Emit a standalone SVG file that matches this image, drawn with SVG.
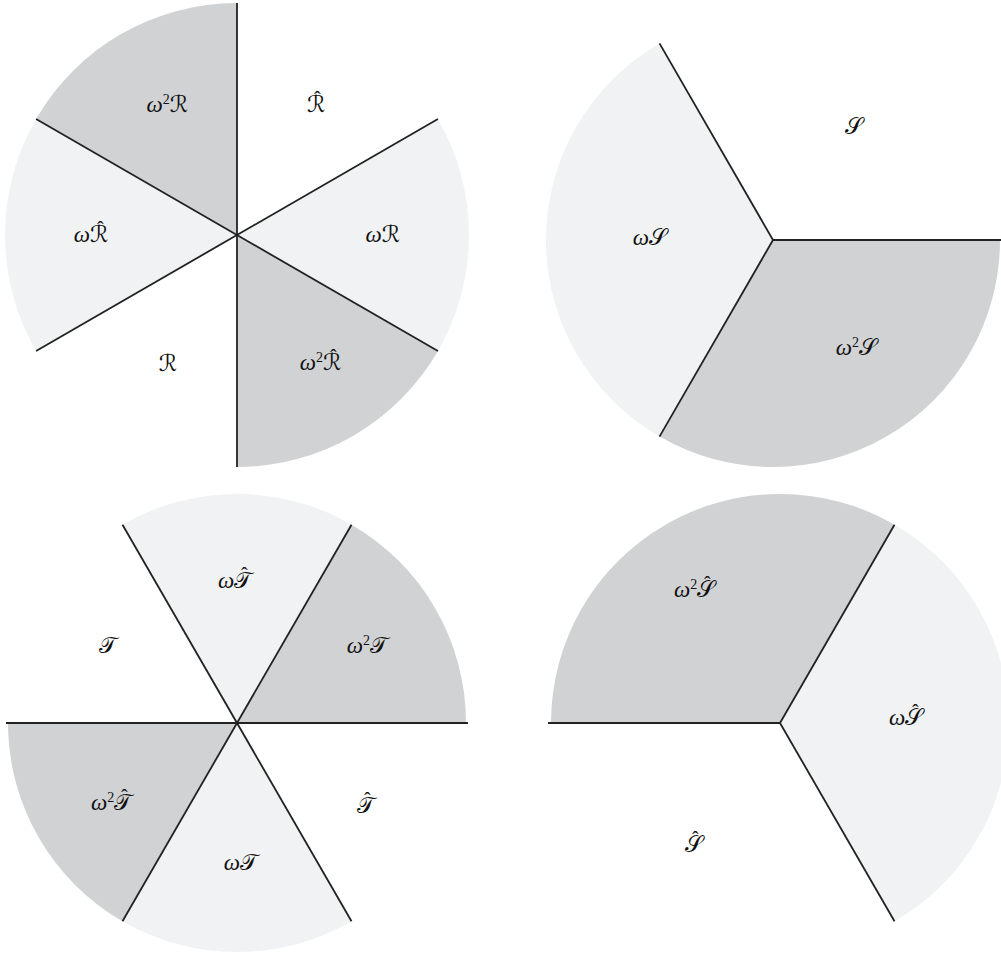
<svg xmlns="http://www.w3.org/2000/svg" width="1001" height="958" viewBox="0 0 1001 958">
<style>
.dark{fill:#d1d2d4;stroke:none}
.light{fill:#f1f2f4;stroke:none}
.ln{stroke:#222;stroke-width:1.8;fill:none}
.lbl{font-family:"DejaVu Serif","DejaVu Sans","Liberation Serif",serif;font-size:23px;fill:#111;text-anchor:end}
.w{font-family:"Liberation Serif",serif;font-style:italic;font-size:23px}
.sup{font-family:"Liberation Serif",serif;font-size:14px}
.hat{font-family:"Liberation Serif",serif;font-size:20px}
</style>
<rect width="1001" height="958" fill="#fff"/>
<g id="diagram-R">
<path class="dark" d="M237 235 L237 3 A232 232 0 0 0 36.08 119 Z"/>
<path class="light" d="M237 235 L36.08 119 A232 232 0 0 0 36.08 351 Z"/>
<path class="dark" d="M237 235 L237 467 A232 232 0 0 0 437.92 351 Z"/>
<path class="light" d="M237 235 L437.92 351 A232 232 0 0 0 437.92 119 Z"/>
<text class="lbl" x="188" y="112"><tspan class="w">ω</tspan><tspan class="sup" dy="-8">2</tspan><tspan dy="8">ℛ</tspan></text>
<text class="lbl" x="325.3" y="112">ℛ<tspan class="hat" dx="-11.3" dy="-6">ˆ</tspan></text>
<text class="lbl" x="108.3" y="242"><tspan class="w">ω</tspan>ℛ<tspan class="hat" dx="-11.3" dy="-6">ˆ</tspan></text>
<text class="lbl" x="400" y="242"><tspan class="w">ω</tspan>ℛ</text>
<text class="lbl" x="177" y="371">ℛ</text>
<text class="lbl" x="341.3" y="370"><tspan class="w">ω</tspan><tspan class="sup" dy="-8">2</tspan><tspan dy="8">ℛ</tspan><tspan class="hat" dx="-11.3" dy="-6">ˆ</tspan></text>
</g>
<g id="diagram-S">
<path class="light" d="M773 240 L659.5 43.41 A227 227 0 0 0 659.5 436.59 Z"/>
<path class="dark" d="M773 240 L659.5 436.59 A227 227 0 0 0 1000 240 Z"/>
<text class="lbl" x="863" y="134">𝒮</text>
<text class="lbl" x="667" y="245"><tspan class="w">ω</tspan>𝒮</text>
<text class="lbl" x="877" y="355"><tspan class="w">ω</tspan><tspan class="sup" dy="-8">2</tspan><tspan dy="8">𝒮</tspan></text>
</g>
<g id="diagram-T">
<path class="light" d="M237 723 L351.5 524.68 A229 229 0 0 0 122.5 524.68 Z"/>
<path class="dark" d="M237 723 L466 723 A229 229 0 0 0 351.5 524.68 Z"/>
<path class="dark" d="M237 723 L8 723 A229 229 0 0 0 122.5 921.32 Z"/>
<path class="light" d="M237 723 L122.5 921.32 A229 229 0 0 0 351.5 921.32 Z"/>
<text class="lbl" x="252.3" y="588"><tspan class="w">ω</tspan>𝒯<tspan class="hat" dx="-11.3" dy="-6">ˆ</tspan></text>
<text class="lbl" x="117" y="653">𝒯</text>
<text class="lbl" x="388" y="653"><tspan class="w">ω</tspan><tspan class="sup" dy="-8">2</tspan><tspan dy="8">𝒯</tspan></text>
<text class="lbl" x="132.3" y="810"><tspan class="w">ω</tspan><tspan class="sup" dy="-8">2</tspan><tspan dy="8">𝒯</tspan><tspan class="hat" dx="-11.3" dy="-6">ˆ</tspan></text>
<text class="lbl" x="375.3" y="813">𝒯<tspan class="hat" dx="-11.3" dy="-6">ˆ</tspan></text>
<text class="lbl" x="258" y="870"><tspan class="w">ω</tspan>𝒯</text>
</g>
<g id="diagram-Shat">
<path class="dark" d="M780 723 L894.5 524.68 A229 229 0 0 0 551 723 Z"/>
<path class="light" d="M780 723 L894.5 921.32 A229 229 0 0 0 894.5 524.68 Z"/>
<text class="lbl" x="715.3" y="597"><tspan class="w">ω</tspan><tspan class="sup" dy="-8">2</tspan><tspan dy="8">𝒮</tspan><tspan class="hat" dx="-11.3" dy="-6">ˆ</tspan></text>
<text class="lbl" x="923.3" y="725"><tspan class="w">ω</tspan>𝒮<tspan class="hat" dx="-11.3" dy="-6">ˆ</tspan></text>
<text class="lbl" x="703.3" y="852">𝒮<tspan class="hat" dx="-11.3" dy="-6">ˆ</tspan></text>
</g>
<g id="connectors">
<line class="ln" x1="237" y1="3" x2="237" y2="467"/>
<line class="ln" x1="36.08" y1="119" x2="437.92" y2="351"/>
<line class="ln" x1="36.08" y1="351" x2="437.92" y2="119"/>
<line class="ln" x1="773" y1="240" x2="659.5" y2="43.41"/>
<line class="ln" x1="773" y1="240" x2="659.5" y2="436.59"/>
<line class="ln" x1="773" y1="240" x2="1001" y2="240"/>
<line class="ln" x1="6" y1="723" x2="468" y2="723"/>
<line class="ln" x1="122.5" y1="524.68" x2="351.5" y2="921.32"/>
<line class="ln" x1="351.5" y1="524.68" x2="122.5" y2="921.32"/>
<line class="ln" x1="548" y1="723" x2="780" y2="723"/>
<line class="ln" x1="780" y1="723" x2="894.5" y2="524.68"/>
<line class="ln" x1="780" y1="723" x2="894.5" y2="921.32"/>
</g>
</svg>
